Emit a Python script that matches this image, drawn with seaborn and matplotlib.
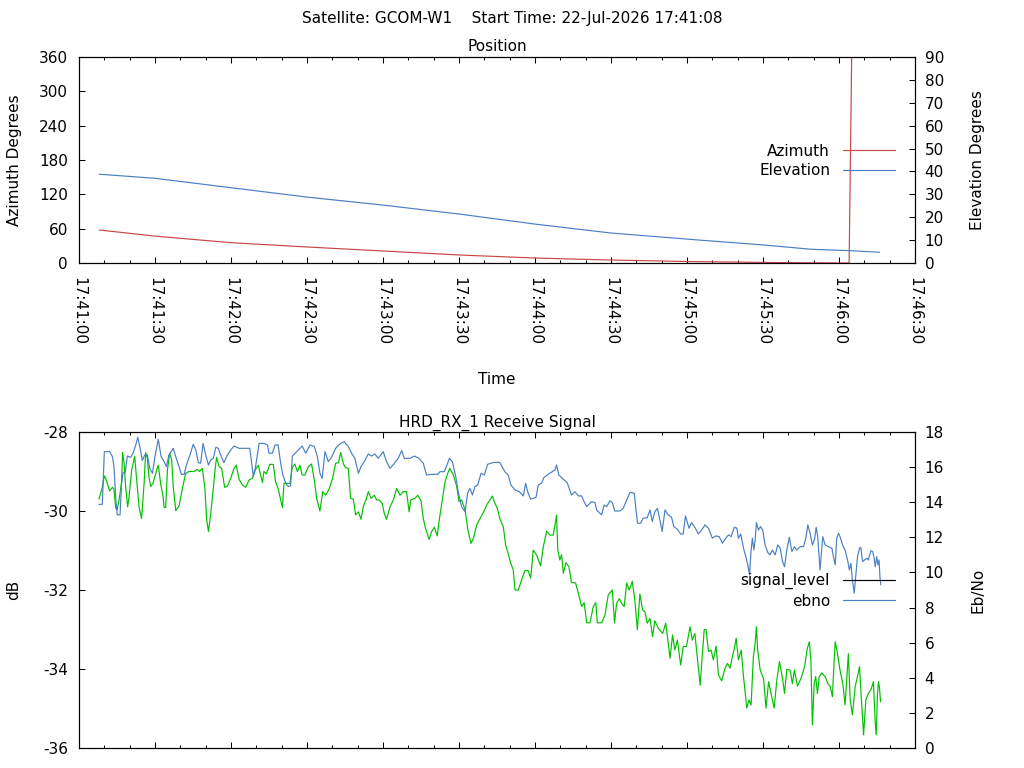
import matplotlib
matplotlib.use("Agg")
import matplotlib.pyplot as plt
from matplotlib.ticker import FuncFormatter, MultipleLocator
from matplotlib.lines import Line2D
import seaborn as sns

sns.set_style("white")
plt.rcParams['font.family'] = ['DejaVu Sans']
plt.rcParams['font.size'] = 11
plt.rcParams['axes.unicode_minus'] = False
for key in ('text.color', 'axes.labelcolor', 'xtick.color', 'ytick.color', 'axes.edgecolor'):
    plt.rcParams[key] = 'black'

# ---------------- data ----------------
satellite = "GCOM-W1"
start_time = "22-Jul-2026 17:41:08"
base_seconds = 17 * 3600 + 41 * 60   # 17:41:00, x axis origin (seconds)

# Position panel (seconds after 17:41:00)
az_time = [8, 30, 60, 90, 120, 150, 180, 210, 240, 270, 289, 304, 305, 316]
azimuth = [57.7, 47.0, 35.5, 28.0, 21.0, 14.0, 8.7, 5.2, 2.6, 1.0, 0.3, 0.05, 359.9, 359.5]

el_time = [8, 30, 60, 90, 120, 150, 180, 210, 245, 270, 289, 304, 316]
elevation = [38.8, 37.0, 32.9, 28.8, 25.3, 21.4, 17.0, 13.1, 10.0, 7.9, 6.0, 5.4, 4.7]

# Receive signal panel
sig_time = [
    7.9, 9.2, 10.0, 10.5, 12.1, 13.2, 13.8, 14.5, 15.1, 16.1,
    16.8, 17.2, 17.8, 18.4, 19.2, 19.7, 20.8, 22.0, 22.6, 23.7,
    24.7, 25.7, 26.3, 27.0, 27.6, 28.3, 29.2, 30.5, 31.3, 32.2,
    33.2, 33.6, 34.2, 34.9, 35.8, 36.6, 37.2, 38.2, 39.5, 40.8,
    42.1, 43.4, 45.4, 46.7, 47.6, 48.7, 49.7, 50.4, 51.1, 52.0,
    52.9, 53.7, 54.3, 55.3, 56.3, 57.5, 58.6, 59.9, 61.2, 62.1,
    63.2, 64.5, 65.8, 67.1, 68.4, 69.7, 70.8, 71.7, 72.4, 73.0,
    74.0, 75.3, 76.7, 77.6, 78.6, 79.6, 80.3, 80.9, 82.3, 83.3,
    84.2, 85.2, 86.2, 87.2, 88.1, 89.2, 90.5, 91.8, 92.9, 93.8,
    95.1, 96.2, 97.4, 98.8, 100.1, 101.3, 102.4, 103.3, 104.3, 105.0,
    106.3, 107.2, 108.3, 109.2, 110.3, 111.3, 112.2, 113.3, 114.2, 115.3,
    116.6, 117.5, 118.5, 119.7, 120.5, 121.4, 122.8, 124.1, 125.4, 126.7,
    128.0, 129.3, 130.3, 131.0, 132.6, 133.7, 135.0, 135.9, 136.8, 138.2,
    139.2, 140.3, 141.4, 142.2, 143.4, 144.5, 145.5, 146.4, 147.8, 149.1,
    150.0, 151.0, 152.4, 153.4, 154.7, 155.7, 157.0, 158.3, 159.6, 160.9,
    162.2, 163.2, 163.9, 165.1, 166.1, 167.5, 168.4, 169.4, 170.4, 171.4,
    172.1, 173.4, 174.7, 176.0, 177.3, 178.3, 179.3, 180.6, 182.2, 183.3,
    184.6, 185.9, 187.2, 188.1, 188.5, 189.0, 189.8, 190.5, 191.2, 192.2,
    193.4, 194.4, 196.0, 197.1, 198.4, 199.4, 200.4, 201.7, 203.0, 204.0,
    204.6, 206.3, 207.6, 208.9, 210.5, 211.4, 212.2, 213.3, 214.2, 215.2,
    216.2, 217.2, 218.4, 219.4, 220.4, 221.4, 222.5, 223.4, 224.3, 225.4,
    226.4, 227.3, 228.7, 230.4, 231.6, 232.6, 233.3, 234.3, 235.2, 236.2,
    237.5, 238.5, 239.8, 241.2, 242.1, 243.1, 244.3, 245.2, 245.8, 246.8,
    247.5, 248.5, 249.5, 250.4, 251.5, 252.4, 253.7, 255.0, 256.0, 257.0,
    257.9, 258.7, 259.4, 260.3, 261.4, 262.3, 263.0, 263.6, 264.5, 265.3,
    266.2, 266.9, 267.4, 267.9, 268.9, 270.2, 271.2, 272.2, 273.2, 274.4,
    275.4, 276.5, 277.7, 278.5, 279.4, 280.7, 281.6, 282.4, 283.6, 285.0,
    286.4, 287.5, 288.3, 288.9, 289.5, 290.2, 290.8, 291.5, 292.2, 293.2,
    294.5, 295.6, 296.5, 297.4, 298.1, 298.5, 299.4, 300.4, 301.5, 302.4,
    303.1, 303.7, 304.4, 305.3, 306.4, 307.3, 308.1, 308.7, 309.7, 310.6,
    311.6, 312.7, 313.6, 314.3, 314.7, 315.2, 315.6, 316.0, 316.4,
]
signal_level = [
    -29.70, -29.40, -29.11, -29.17, -29.49, -29.40, -29.45, -29.93, -29.97, -29.60,
    -29.26, -28.52, -28.79, -29.38, -29.89, -29.68, -28.96, -28.61, -29.09, -29.89,
    -30.19, -29.30, -28.52, -28.67, -29.13, -29.38, -29.30, -29.00, -28.84, -29.30,
    -29.64, -29.91, -29.91, -28.96, -28.54, -28.71, -29.38, -29.99, -29.87, -29.43,
    -29.05, -29.00, -29.00, -28.95, -29.00, -28.92, -29.43, -30.23, -30.52, -30.06,
    -29.51, -28.96, -28.64, -28.88, -28.92, -29.40, -29.37, -29.17, -28.92, -28.84,
    -29.20, -29.34, -29.40, -29.22, -29.17, -28.95, -28.84, -29.09, -29.28, -29.00,
    -29.06, -28.82, -28.82, -29.26, -29.43, -29.72, -29.91, -29.30, -29.30, -29.30,
    -28.89, -28.81, -29.00, -28.84, -29.09, -29.09, -28.88, -28.81, -29.22, -29.68,
    -30.00, -29.51, -29.60, -29.43, -29.17, -28.79, -28.78, -28.52, -28.79, -28.89,
    -28.92, -29.68, -29.70, -30.10, -30.02, -30.21, -29.89, -29.72, -29.51, -29.68,
    -29.60, -29.72, -29.72, -29.81, -30.06, -30.21, -29.89, -29.72, -29.43, -29.60,
    -29.51, -29.51, -30.02, -29.72, -29.68, -29.60, -29.74, -30.19, -30.44, -30.72,
    -30.52, -30.41, -30.63, -30.23, -29.72, -29.26, -29.05, -28.92, -29.09, -29.38,
    -29.76, -29.72, -29.97, -30.44, -30.82, -30.69, -30.35, -30.19, -30.04, -29.85,
    -29.72, -29.62, -29.76, -29.93, -30.19, -30.40, -30.86, -31.07, -31.32, -31.49,
    -32.00, -32.00, -31.75, -31.51, -31.51, -31.70, -30.99, -31.11, -31.39, -30.90,
    -30.51, -30.61, -30.61, -30.27, -30.10, -30.99, -31.24, -31.11, -31.58, -31.31,
    -31.41, -31.81, -31.82, -32.08, -32.42, -32.32, -32.83, -32.83, -32.42, -32.32,
    -32.83, -32.83, -32.64, -32.13, -32.00, -32.83, -32.34, -32.22, -32.34, -32.42,
    -31.82, -32.00, -31.78, -32.25, -33.01, -32.10, -32.51, -32.55, -32.84, -32.72,
    -33.18, -32.78, -32.97, -33.10, -32.84, -33.35, -33.73, -33.14, -33.52, -33.27,
    -33.90, -33.43, -33.43, -32.93, -33.27, -33.10, -33.86, -34.41, -33.86, -33.00,
    -33.00, -33.56, -33.52, -33.77, -33.42, -34.15, -34.30, -33.98, -33.86, -33.98,
    -33.69, -33.48, -33.22, -33.77, -33.52, -34.19, -34.62, -34.99, -34.78, -34.91,
    -33.69, -33.35, -32.93, -33.52, -34.03, -34.24, -34.99, -34.32, -34.62, -34.99,
    -34.32, -33.81, -34.24, -34.62, -34.01, -34.03, -34.37, -34.03, -34.43, -34.24,
    -33.94, -33.48, -33.31, -33.77, -35.42, -34.37, -34.19, -34.62, -34.19, -34.10,
    -34.19, -34.37, -34.44, -34.70, -33.77, -33.31, -33.61, -34.03, -34.37, -34.91,
    -34.19, -33.61, -34.78, -35.16, -34.44, -34.19, -33.94, -34.62, -35.67, -34.78,
    -34.62, -34.51, -34.32, -35.37, -35.67, -34.62, -34.32, -34.49, -34.83,
]

ebno_time = [
    7.9, 9.2, 10.0, 12.1, 13.2, 13.8, 14.5, 15.1, 16.2, 16.8,
    17.4, 18.2, 19.1, 20.4, 21.3, 22.4, 23.2, 24.0, 25.0, 25.9,
    27.0, 27.9, 29.0, 30.0, 31.3, 32.4, 33.6, 34.5, 35.5, 37.2,
    38.4, 39.7, 40.4, 41.5, 42.4, 43.8, 45.1, 46.1, 47.1, 48.0,
    49.0, 50.0, 51.1, 52.0, 53.0, 54.0, 55.0, 55.9, 57.2, 58.6,
    59.9, 61.2, 63.2, 65.8, 67.4, 68.0, 68.8, 69.7, 71.1, 73.0,
    74.4, 75.0, 76.3, 77.4, 78.6, 79.6, 80.5, 81.6, 82.6, 83.5,
    84.2, 85.9, 88.1, 89.5, 91.2, 92.9, 94.1, 95.1, 96.0, 97.1,
    97.7, 98.4, 99.7, 101.3, 103.0, 104.7, 106.3, 107.6, 108.9, 110.3,
    111.3, 112.6, 114.2, 115.5, 116.8, 118.1, 120.1, 121.4, 122.8, 124.5,
    126.0, 127.4, 128.4, 130.6, 132.4, 134.2, 135.9, 137.2, 139.2, 141.6,
    142.5, 144.2, 145.1, 146.2, 147.4, 148.7, 149.7, 151.0, 152.4, 153.4,
    154.3, 155.3, 156.3, 157.4, 158.7, 160.0, 161.3, 162.6, 163.9, 166.1,
    168.1, 169.4, 170.5, 172.1, 173.8, 175.4, 176.3, 177.1, 178.3, 180.4,
    181.3, 182.6, 183.5, 185.2, 186.8, 187.9, 188.5, 189.4, 191.2, 192.7,
    194.4, 195.8, 197.1, 198.4, 199.4, 200.4, 202.3, 203.7, 204.3, 206.3,
    207.3, 208.3, 209.6, 210.5, 211.5, 213.5, 214.8, 216.2, 217.5, 219.2,
    219.8, 220.5, 221.7, 222.7, 224.3, 225.4, 226.3, 227.3, 228.3, 229.3,
    230.2, 231.3, 232.6, 233.9, 234.8, 236.2, 237.5, 238.5, 239.4, 240.8,
    241.8, 243.1, 244.5, 245.8, 247.1, 248.5, 250.0, 251.4, 252.7, 254.0,
    255.3, 256.4, 257.4, 258.7, 259.7, 260.3, 261.2, 262.3, 263.2, 264.0,
    264.7, 265.2, 265.8, 266.4, 266.9, 267.4, 268.2, 269.0, 269.9, 270.8,
    271.9, 272.8, 273.7, 274.8, 275.8, 276.8, 277.7, 278.5, 279.4, 280.4,
    281.4, 282.4, 283.3, 284.7, 286.0, 286.9, 287.7, 288.6, 289.5, 290.3,
    291.0, 291.6, 292.5, 293.6, 294.5, 295.8, 297.2, 297.8, 298.5, 299.1,
    299.8, 300.4, 301.4, 302.4, 303.5, 304.1, 304.7, 305.3, 306.0, 306.6,
    307.3, 308.1, 308.6, 309.3, 310.1, 311.0, 311.6, 312.6, 313.3, 313.9,
    314.3, 314.9, 315.4, 315.8, 316.2, 316.5,
]
ebno = [
    13.88, 13.88, 16.88, 16.88, 16.60, 16.03, 14.22, 13.28, 13.28, 15.08,
    15.68, 15.68, 16.63, 16.56, 16.79, 17.26, 17.70, 17.17, 16.37, 16.69,
    16.69, 15.93, 15.65, 16.60, 17.58, 16.60, 16.31, 16.03, 16.69, 17.07,
    16.50, 15.93, 15.59, 15.59, 16.12, 16.69, 17.30, 16.98, 16.25, 16.22,
    17.35, 16.69, 16.12, 16.41, 16.50, 17.13, 17.07, 16.69, 16.25, 16.69,
    16.98, 17.20, 17.07, 17.07, 17.07, 16.41, 15.46, 16.03, 17.35, 17.35,
    17.26, 16.79, 16.79, 17.26, 17.26, 16.22, 15.55, 15.08, 14.89, 14.93,
    16.63, 16.88, 17.20, 16.79, 17.26, 17.17, 16.60, 15.65, 15.36, 16.88,
    16.63, 16.31, 16.56, 17.07, 17.32, 17.45, 17.17, 16.79, 16.50, 15.65,
    16.03, 16.31, 16.75, 16.63, 16.75, 16.50, 16.88, 16.31, 15.93, 16.22,
    16.50, 16.94, 16.50, 16.50, 16.63, 16.50, 16.22, 15.55, 15.59, 15.59,
    15.74, 15.74, 16.06, 16.50, 16.31, 15.46, 14.60, 13.75, 13.46, 14.51,
    14.79, 14.41, 14.89, 14.98, 15.65, 15.55, 16.16, 16.22, 16.27, 16.27,
    15.74, 15.55, 14.98, 14.70, 14.60, 14.36, 15.08, 14.60, 14.17, 14.28,
    14.98, 15.08, 15.40, 15.59, 15.74, 15.84, 16.12, 15.55, 15.31, 15.12,
    14.41, 14.60, 14.36, 14.36, 14.03, 13.75, 14.03, 13.98, 13.56, 13.28,
    13.84, 13.75, 14.09, 13.98, 13.50, 13.50, 13.65, 14.13, 14.57, 14.51,
    13.65, 12.80, 12.80, 13.09, 13.12, 13.56, 12.90, 13.46, 13.65, 12.99,
    12.33, 13.56, 13.28, 13.14, 12.61, 12.46, 12.19, 12.19, 13.22, 12.52,
    12.84, 12.57, 12.19, 12.42, 12.71, 12.52, 11.95, 12.08, 12.04, 11.66,
    11.95, 12.14, 12.04, 12.57, 12.52, 11.95, 12.19, 11.38, 10.90, 10.43,
    9.86, 11.09, 11.95, 11.28, 11.85, 12.84, 12.42, 12.61, 12.42, 11.57,
    11.13, 11.00, 11.28, 11.00, 11.57, 11.38, 10.62, 10.33, 11.28, 12.00,
    11.19, 11.47, 11.28, 11.47, 11.47, 11.95, 12.71, 12.23, 11.57, 11.85,
    12.57, 12.04, 10.14, 12.04, 11.57, 11.47, 11.38, 10.90, 10.43, 11.95,
    12.23, 12.04, 11.57, 11.28, 10.62, 10.14, 10.52, 9.58, 8.82, 9.76,
    10.90, 11.38, 11.43, 10.62, 10.71, 10.81, 10.71, 11.24, 11.19, 10.81,
    10.33, 10.90, 10.43, 10.71, 9.67, 9.29,
]

RED = "#c84646"
BLUE = "#4a7fc2"
GREEN = "#00c000"

# ---------------- figure ----------------
W, H = 1024, 768
fig = plt.figure(figsize=(W / 100, H / 100), dpi=100)

L, R = 79, 915
ax1 = fig.add_axes([L / W, 1 - 263 / H, (R - L) / W, (263 - 57) / H])
ax1r = ax1.twinx()
ax2 = fig.add_axes([L / W, 1 - 748 / H, (R - L) / W, (748 - 432) / H])
ax2r = ax2.twinx()

lw = 0.85
n = min(len(az_time), len(azimuth))
sns.lineplot(x=az_time[:n], y=azimuth[:n], ax=ax1, color=RED, linewidth=lw,
             estimator=None, sort=False)
n = min(len(el_time), len(elevation))
sns.lineplot(x=el_time[:n], y=elevation[:n], ax=ax1r, color=BLUE, linewidth=lw,
             estimator=None, sort=False)
n = min(len(sig_time), len(signal_level))
sns.lineplot(x=sig_time[:n], y=signal_level[:n], ax=ax2, color=GREEN, linewidth=lw,
             estimator=None, sort=False)
n = min(len(ebno_time), len(ebno))
sns.lineplot(x=ebno_time[:n], y=ebno[:n], ax=ax2r, color=BLUE, linewidth=lw,
             estimator=None, sort=False)


def tfmt(x, pos):
    s = int(round(base_seconds + x))
    return f"{s // 3600:02d}:{(s % 3600) // 60:02d}:{s % 60:02d}"


for ax in (ax1, ax2):
    ax.set_xlim(0, 330)
    ax.xaxis.set_major_locator(MultipleLocator(30))
    ax.xaxis.set_minor_locator(MultipleLocator(10))
    ax.tick_params(axis='x', which='major', direction='in', top=True, bottom=True,
                   length=4.5, width=0.75, pad=10, colors='black')
    ax.tick_params(axis='x', which='minor', direction='in', top=True, bottom=True,
                   length=2.5, width=0.75, colors='black')
    for sp in ax.spines.values():
        sp.set_color('black')
        sp.set_linewidth(0.8)

ax1.xaxis.set_major_formatter(FuncFormatter(tfmt))
ax1.tick_params(axis='x', labelrotation=270)
ax2.tick_params(axis='x', labelbottom=False)

ax1.set_ylim(0, 360)
ax1.yaxis.set_major_locator(MultipleLocator(60))
ax1r.set_ylim(0, 90)
ax1r.yaxis.set_major_locator(MultipleLocator(10))
ax2.set_ylim(-36, -28)
ax2.yaxis.set_major_locator(MultipleLocator(2))
ax2r.set_ylim(0, 18)
ax2r.yaxis.set_major_locator(MultipleLocator(2))

for ax in (ax1, ax2):
    ax.tick_params(axis='y', direction='in', left=True, right=False,
                   length=4.5, width=0.75, pad=8, colors='black')
for ax in (ax1r, ax2r):
    ax.tick_params(axis='y', direction='in', right=True, left=False,
                   length=4.5, width=0.75, pad=7, colors='black')
    for sp in ax.spines.values():
        sp.set_color('black')
        sp.set_linewidth(0.8)

ax1.set_ylabel("Azimuth Degrees", color='black')
ax1.yaxis.set_label_coords(-0.068, 0.5)
ax1r.set_ylabel("Elevation Degrees", rotation=90, color='black')
ax1r.yaxis.set_label_coords(1.066, 0.5)
ax1.set_xlabel("Time", color='black')
ax1.xaxis.set_label_coords(0.5, -0.53)
ax1.set_title("Position", fontsize=11, pad=4, color='black')

ax2.set_ylabel("dB", color='black')
ax2.yaxis.set_label_coords(-0.069, 0.5)
ax2r.set_ylabel("Eb/No", rotation=90, color='black')
ax2r.yaxis.set_label_coords(1.066, 0.5)
ax2.set_xlabel("")
ax2.set_title("HRD_RX_1 Receive Signal", fontsize=11, pad=4, color='black')

leg_kw = dict(loc='upper right', frameon=False, markerfirst=False,
              handlelength=3.4, handletextpad=0.85, borderpad=0,
              borderaxespad=0, labelspacing=0.3, fontsize=11, labelcolor='black')
ax1r.legend([Line2D([], [], color=RED, lw=lw), Line2D([], [], color=BLUE, lw=lw)],
            ["Azimuth", "Elevation"], bbox_to_anchor=(0.976, 0.58), **leg_kw)
ax2r.legend([Line2D([], [], color='black', lw=lw), Line2D([], [], color=BLUE, lw=lw)],
            ["signal_level", "ebno"], bbox_to_anchor=(0.976, 0.554), **leg_kw)

fig.text(0.5, 1 - 18 / H, f"Satellite: {satellite}    Start Time: {start_time}",
         ha='center', va='center', fontsize=11, color='black')

fig.savefig("out.png", dpi=100)
